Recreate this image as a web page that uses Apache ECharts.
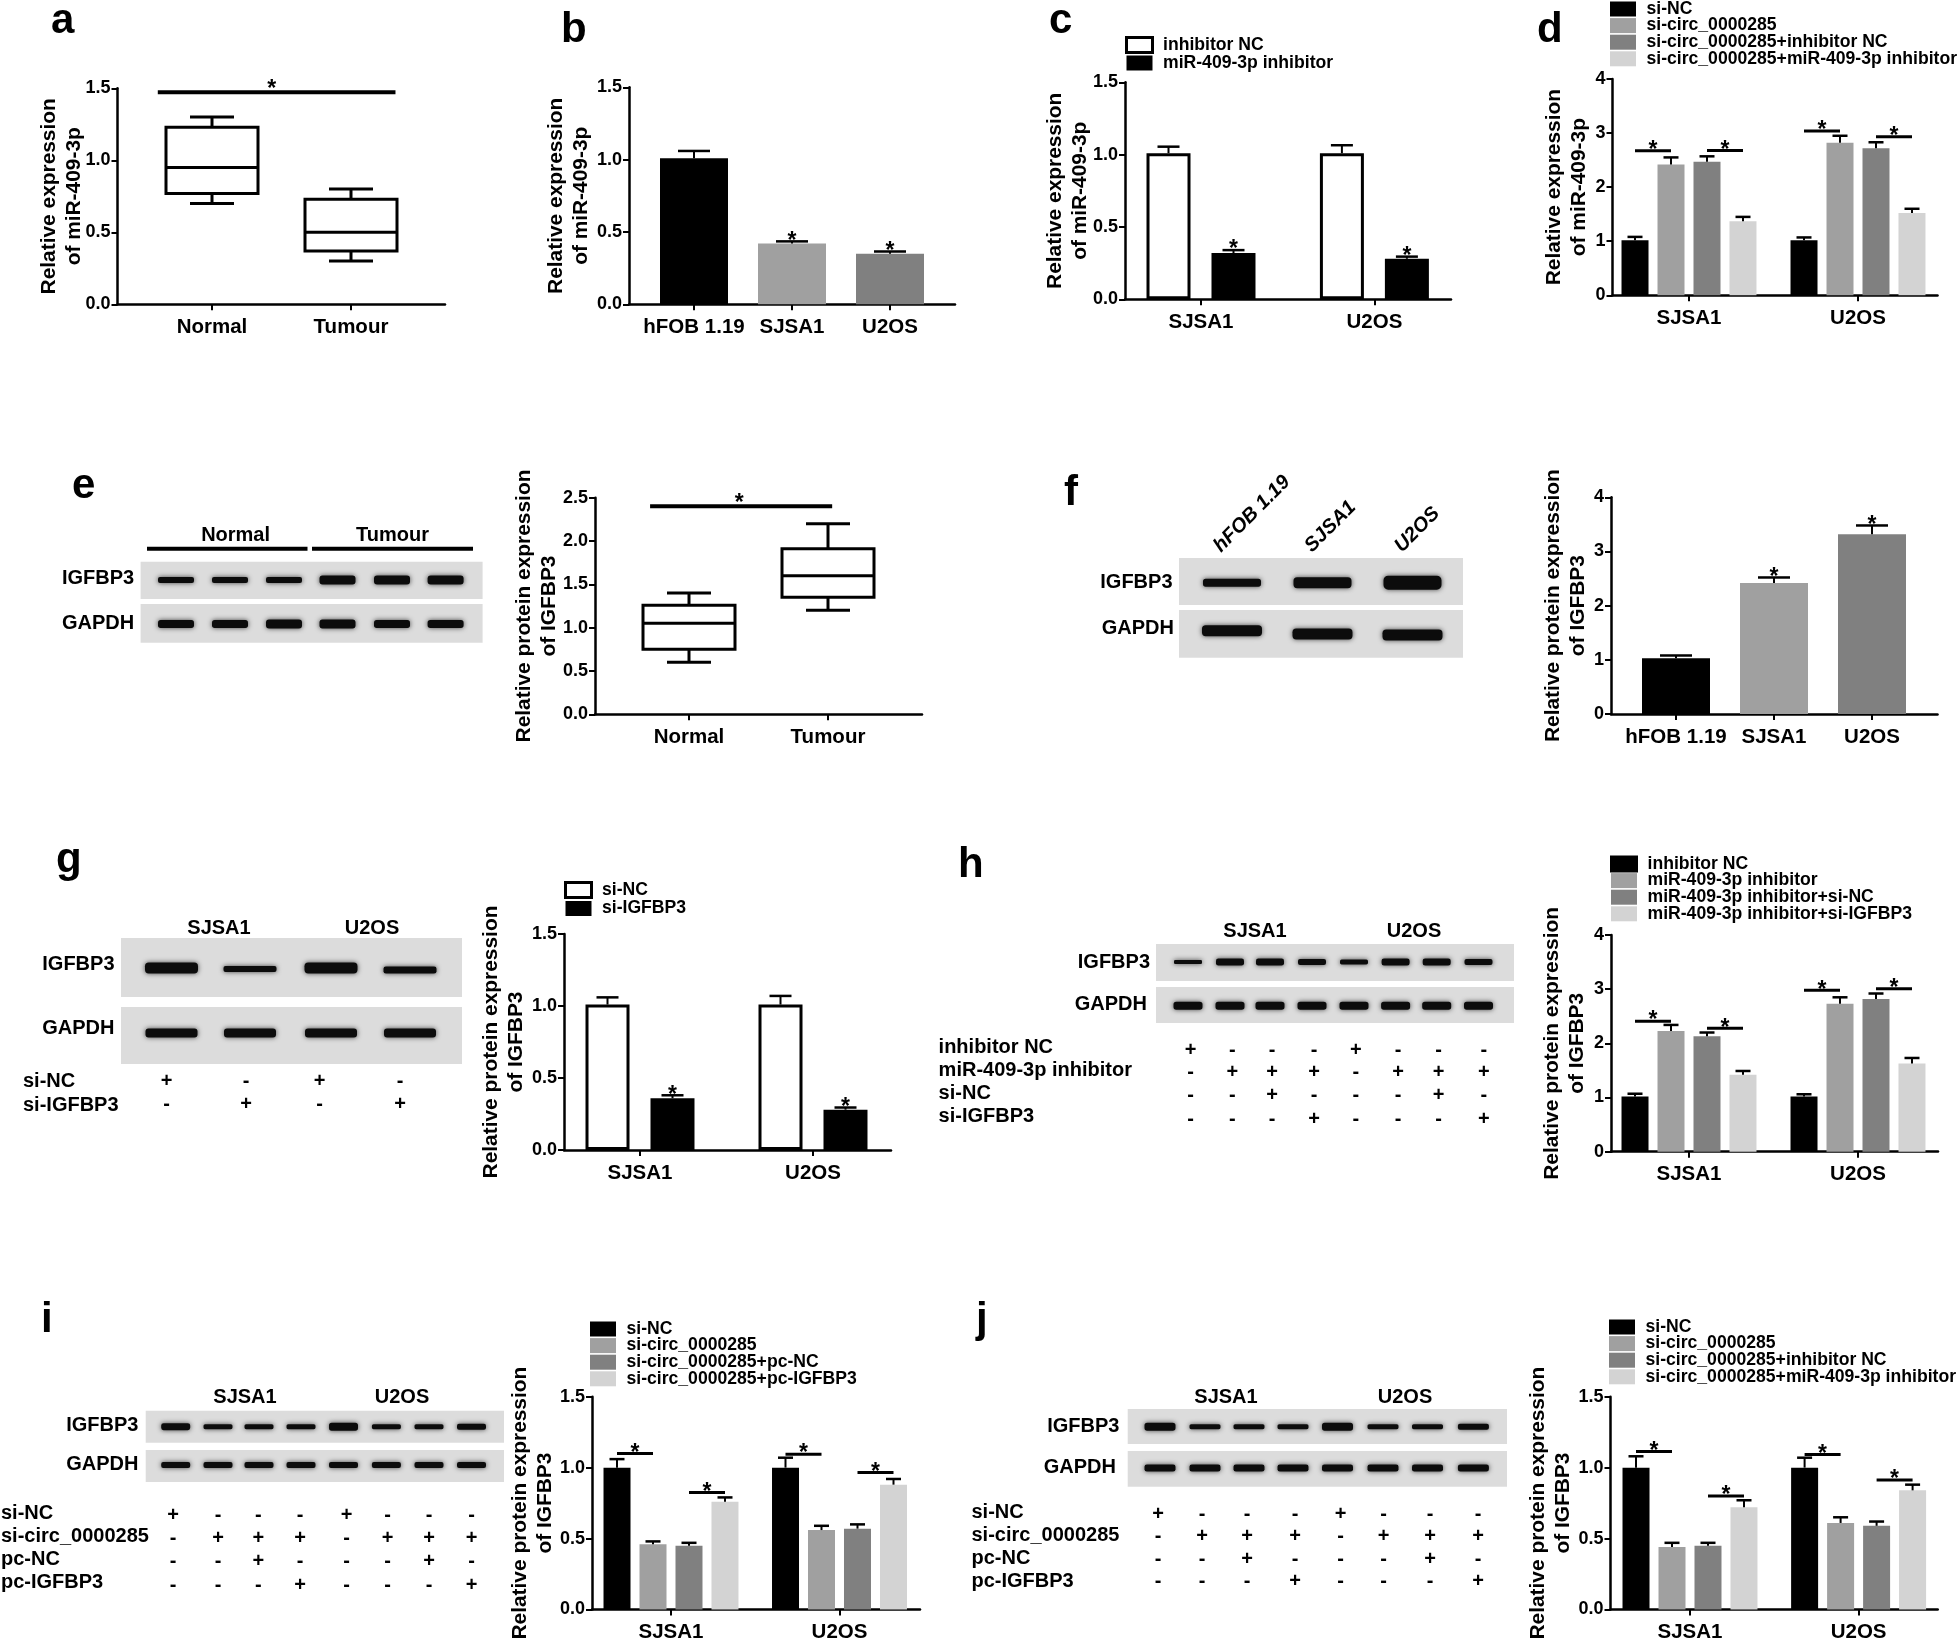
<!DOCTYPE html>
<html>
<head>
<meta charset="utf-8">
<title>miR-409-3p / IGFBP3 panels</title>
<script src="https://cdn.jsdelivr.net/npm/echarts@6/dist/echarts.min.js"></script>
<style>
  html, body { margin: 0; padding: 0; background: #fff; }
  #chart { width: 1960px; height: 1643px; }
</style>
</head>
<body>
<div id="chart"></div>
<script>
// values
const groupCats = ['SJSA1', 'U2OS'];
const cellCats = ['hFOB 1.19', 'SJSA1', 'U2OS'];
const tissueCats = ['Normal', 'Tumour'];

// box plots: min, q1, median, q3, max
const aBoxes = [[0.7, 0.77, 0.95, 1.23, 1.3], [0.3, 0.37, 0.5, 0.73, 0.8]];
const eBoxes = [[0.6, 0.75, 1.05, 1.26, 1.4], [1.2, 1.35, 1.6, 1.91, 2.2]];

const bValues = [1.01, 0.42, 0.35];
const bTops = [1.06, 0.435, 0.365];
const fValues = [1.03, 2.42, 3.32];
const fTops = [1.08, 2.52, 3.48];

const cValues = [[1.01, 1.01], [0.32, 0.28]];
const cTops = [[1.055, 1.065], [0.34, 0.295]];
const gValues = [[1.01, 1.01], [0.36, 0.28]];
const gTops = [[1.06, 1.07], [0.38, 0.295]];

const dValues = [[1.02, 1.02], [2.42, 2.82], [2.47, 2.72], [1.37, 1.52]];
const dTops = [[1.08, 1.07], [2.55, 2.95], [2.57, 2.83], [1.45, 1.6]];
const dSig = [[0, 0, 0, 1, 2.675], [0, 2, 0, 3, 2.68], [1, 0, 1, 1, 3.04], [1, 2, 1, 3, 2.93]];

const hValues = [[1.02, 1.02], [2.23, 2.73], [2.13, 2.82], [1.42, 1.63]];
const hTops = [[1.07, 1.06], [2.34, 2.85], [2.2, 2.92], [1.49, 1.73]];
const hSig = [[0, 0, 0, 1, 2.41], [0, 2, 0, 3, 2.28], [1, 0, 1, 1, 2.98], [1, 2, 1, 3, 3.01]];

const iValues = [[1.0, 1.0], [0.46, 0.56], [0.45, 0.57], [0.76, 0.88]];
const iTops = [[1.06, 1.07], [0.48, 0.59], [0.47, 0.6], [0.79, 0.92]];
const iSig = [[0, 0, 0, 1, 1.1], [0, 2, 0, 3, 0.824], [1, 0, 1, 1, 1.095], [1, 2, 1, 3, 0.965]];

const jValues = [[1.0, 1.0], [0.44, 0.61], [0.45, 0.59], [0.72, 0.84]];
const jTops = [[1.08, 1.07], [0.47, 0.65], [0.47, 0.62], [0.77, 0.88]];
const jSig = [[0, 0, 0, 1, 1.113], [0, 2, 0, 3, 0.8], [1, 0, 1, 1, 1.092], [1, 2, 1, 3, 0.912]];

const aSig = [[-0.39, 0, 1.32, 0, 1.472]];
const eSig = [[-0.28, 0, 1.03, 0, 2.4]];

const cLegend = ['inhibitor NC', 'miR-409-3p inhibitor'];
const gLegend = ['si-NC', 'si-IGFBP3'];
const dLegend = ['si-NC', 'si-circ_0000285', 'si-circ_0000285+inhibitor NC', 'si-circ_0000285+miR-409-3p inhibitor'];
const hLegend = ['inhibitor NC', 'miR-409-3p inhibitor', 'miR-409-3p inhibitor+si-NC', 'miR-409-3p inhibitor+si-IGFBP3'];
const iLegend = ['si-NC', 'si-circ_0000285', 'si-circ_0000285+pc-NC', 'si-circ_0000285+pc-IGFBP3'];
const jLegend = dLegend;

const titleMir = 'Relative expression\nof miR-409-3p';
const titleProt = 'Relative protein expression\nof IGFBP3';

const greys = ['#000000', '#a0a0a0', '#808080', '#d3d3d3'];
const FONT = '"Liberation Sans", Arial, sans-serif';

const grids = [], xAxes = [], yAxes = [], series = [], legends = [], graphics = [];

function addAxes(p) {
  const idx = grids.length;
  const step = p.ticks[1] - p.ticks[0];
  const tickVals = p.cats.map((c, k) => k);
  grids.push({ left: p.x0, top: p.yTop, width: p.x1 - p.x0, height: p.yBot - p.yTop });
  xAxes.push({
    gridIndex: idx, type: 'value',
    min: (p.x0 - p.ticks[0]) / step, max: (p.x1 - p.ticks[0]) / step,
    axisLine: { show: true, onZero: false, lineStyle: { color: '#000', width: 2.5 } },
    axisTick: { show: true, length: 6, customValues: tickVals, lineStyle: { color: '#000', width: 2 } },
    axisLabel: {
      show: true, customValues: tickVals, formatter: v => p.cats[v], margin: 12.5,
      color: '#000', fontSize: 20.5, fontWeight: 'bold', fontFamily: FONT
    },
    splitLine: { show: false }
  });
  yAxes.push({
    gridIndex: idx, type: 'value', min: 0, max: p.yMax, interval: p.yStep,
    name: p.title, nameLocation: 'middle', nameGap: p.titleGap, nameRotate: 90, nameMoveOverlap: false,
    nameTextStyle: { color: '#000', fontSize: 20.9, fontWeight: 'bold', fontFamily: FONT, lineHeight: 25 },
    axisLine: { show: true, onZero: false, lineStyle: { color: '#000', width: 2.5 } },
    axisTick: { show: true, length: 6, lineStyle: { color: '#000', width: 2 } },
    axisLabel: {
      margin: 7, color: '#000', fontSize: 18, fontWeight: 'bold', fontFamily: FONT,
      formatter: v => (p.yStep < 1 ? v.toFixed(1) : String(v))
    },
    splitLine: { show: false }
  });
  return idx;
}

// x position of bar b inside group g, px
function barX(api, g, b, n, pitch) {
  return api.coord([g, 0])[0] + (b - (n - 1) / 2) * pitch;
}

function addSig(idx, sig, n, pitch, lw, starUp, starLeft) {
  series.push({
    type: 'custom', xAxisIndex: idx, yAxisIndex: idx, silent: true, clip: false, z: 5,
    data: sig,
    renderItem(params, api) {
      const xa = barX(api, api.value(0), api.value(1), n, pitch);
      const xb = barX(api, api.value(2), api.value(3), n, pitch);
      const y = api.coord([0, api.value(4)])[1];
      return {
        type: 'group', children: [
          { type: 'line', shape: { x1: xa, y1: y, x2: xb, y2: y }, style: { stroke: '#000', lineWidth: lw } },
          { type: 'text', x: (xa + xb) / 2 - (starLeft || 0), y: y - (starUp || 0), style: { text: '*', fill: '#000', font: 'bold 23px ' + FONT, align: 'center', verticalAlign: 'middle' } }
        ]
      };
    }
  });
}

function addErrors(idx, rows, n, pitch, capW, stars) {
  series.push({
    type: 'custom', xAxisIndex: idx, yAxisIndex: idx, silent: true, clip: false, z: 4,
    data: rows,
    renderItem(params, api) {
      const x = barX(api, api.value(0), api.value(1), n, pitch);
      const y0 = api.coord([0, api.value(2)])[1];
      const y1 = api.coord([0, api.value(3)])[1];
      const kids = [
        { type: 'line', shape: { x1: x, y1: y0, x2: x, y2: y1 }, style: { stroke: '#000', lineWidth: 2 } },
        { type: 'line', shape: { x1: x - capW / 2, y1: y1, x2: x + capW / 2, y2: y1 }, style: { stroke: '#000', lineWidth: 2.5 } }
      ];
      if (stars && stars.indexOf(params.dataIndex) >= 0) {
        kids.push({ type: 'text', x: x, y: y1, style: { text: '*', fill: '#000', font: 'bold 23px ' + FONT, align: 'center', verticalAlign: 'middle' } });
      }
      return { type: 'group', children: kids };
    }
  });
}

function boxPanel(p, boxes, sig, starLeft) {
  const idx = addAxes(p);
  series.push({
    type: 'custom', xAxisIndex: idx, yAxisIndex: idx, silent: true, clip: false,
    data: boxes.map((b, k) => [k].concat(b)),
    renderItem(params, api) {
      const x = api.coord([api.value(0), 0])[0];
      const ys = [1, 2, 3, 4, 5].map(d => api.coord([0, api.value(d)])[1]);
      const st = { stroke: '#000', lineWidth: 3, fill: 'none' };
      const line = (x1, y1, x2, y2) => ({ type: 'line', shape: { x1, y1, x2, y2 }, style: st });
      const hw = 46, cap = 22;
      return {
        type: 'group', children: [
          { type: 'rect', shape: { x: x - hw, y: ys[3], width: hw * 2, height: ys[1] - ys[3] }, style: { stroke: '#000', lineWidth: 3, fill: '#fff' } },
          line(x - hw, ys[2], x + hw, ys[2]),
          line(x, ys[3], x, ys[4]), line(x, ys[0], x, ys[1]),
          line(x - cap, ys[4], x + cap, ys[4]), line(x - cap, ys[0], x + cap, ys[0])
        ]
      };
    }
  });
  addSig(idx, sig, 1, 0, 4, 3, starLeft);
}

// one series, colour per bar
function cellPanel(p, values, tops) {
  const idx = addAxes(p);
  series.push({
    type: 'bar', xAxisIndex: idx, yAxisIndex: idx, barWidth: 68, silent: true,
    data: values.map((v, k) => ({ value: [k, v], itemStyle: { color: greys[k] } }))
  });
  addErrors(idx, values.map((v, k) => [k, 0, v, tops[k]]), 1, 0, 32, [1, 2]);
}

function groupPanel(p, values, tops, sig, legend, legendPos) {
  const idx = addAxes(p);
  const n = values.length;
  const open = n === 2;
  const barW = open ? 44 : 27;
  const pitch = open ? 65 : 36;
  const styles = open
    ? [{ color: '#fff', borderColor: '#000', borderWidth: 3 }, { color: '#000', borderColor: '#000', borderWidth: 0 }]
    : greys.map(c => ({ color: c }));
  values.forEach((vals, s) => {
    series.push({
      type: 'bar', name: legend[s], xAxisIndex: idx, yAxisIndex: idx, silent: true,
      barWidth: barW, barGap: ((pitch - barW) / barW * 100).toFixed(1) + '%',
      itemStyle: styles[s],
      data: vals.map((v, k) => [k, v])
    });
  });
  const rows = [];
  values.forEach((vals, s) => vals.forEach((v, k) => rows.push([k, s, v, tops[s][k]])));
  addErrors(idx, rows, n, pitch, open ? 22 : 15, open ? [2, 3] : null);
  if (sig) addSig(idx, sig, n, pitch, 3);
  legends.push({
    left: legendPos[0], top: legendPos[1], orient: 'vertical', align: 'left', selectedMode: false, padding: 0,
    itemWidth: 26, itemHeight: 15, itemGap: legendPos[2],
    textStyle: { color: '#000', fontSize: 17.6, fontWeight: 'bold', fontFamily: FONT, lineHeight: 15, padding: [0, 0, 0, 5.5] },
    data: legend.map((name, s) => ({ name, icon: 'rect', itemStyle: Object.assign({}, styles[s]) }))
  });
}

boxPanel({ cats: tissueCats, x0: 117.5, x1: 445, yTop: 88.3, yBot: 304.3, ticks: [212, 351], yMax: 1.5, yStep: 0.5, title: titleMir, titleGap: 31 }, aBoxes, aSig, 5);
cellPanel({ cats: cellCats, x0: 629, x1: 955, yTop: 87.3, yBot: 304.3, ticks: [694, 792, 889], yMax: 1.5, yStep: 0.5, title: titleMir, titleGap: 35 }, bValues, bTops);
groupPanel({ cats: groupCats, x0: 1125, x1: 1451, yTop: 82.3, yBot: 299.3, ticks: [1201, 1374.4], yMax: 1.5, yStep: 0.5, title: titleMir, titleGap: 32 }, cValues, cTops, null, cLegend, [1125, 36, 0]);
groupPanel({ cats: groupCats, x0: 1612.5, x1: 1937.5, yTop: 79, yBot: 295.3, ticks: [1689, 1858], yMax: 4, yStep: 1, title: titleMir, titleGap: 20.5 }, dValues, dTops, dSig, dLegend, [1610, 0, -1.4]);
boxPanel({ cats: tissueCats, x0: 595, x1: 922, yTop: 497.7, yBot: 714.3, ticks: [689, 828], yMax: 2.5, yStep: 0.5, title: titleProt, titleGap: 33 }, eBoxes, eSig, 2);
cellPanel({ cats: cellCats, x0: 1611, x1: 1937.5, yTop: 497.3, yBot: 714, ticks: [1676, 1774, 1872], yMax: 4, yStep: 1, title: titleProt, titleGap: 20 }, fValues, fTops);
groupPanel({ cats: groupCats, x0: 564, x1: 891, yTop: 934, yBot: 1150, ticks: [640, 813], yMax: 1.5, yStep: 0.5, title: titleProt, titleGap: 35 }, gValues, gTops, null, gLegend, [564, 881, 0.5]);
groupPanel({ cats: groupCats, x0: 1611, x1: 1938, yTop: 935, yBot: 1151.7, ticks: [1689, 1858], yMax: 4, yStep: 1, title: titleProt, titleGap: 21 }, hValues, hTops, hSig, hLegend, [1610, 855, -1.4]);
groupPanel({ cats: groupCats, x0: 592, x1: 920, yTop: 1396.7, yBot: 1612.7, ticks: [671, 839.5], yMax: 1.5, yStep: 0.5, title: titleProt, titleGap: 34 }, iValues, iTops, iSig, iLegend, [590, 1320, -1.4]);
groupPanel({ cats: groupCats, x0: 1610.5, x1: 1937.7, yTop: 1396.7, yBot: 1612.7, ticks: [1690, 1858.6], yMax: 1.5, yStep: 0.5, title: titleProt, titleGap: 34.5 }, jValues, jTops, jSig, jLegend, [1609, 1318, -1.4]);

// ---- text, blots and the +/- tables, all plain drawing ----
function txt(text, x, y, size, align, extra) {
  graphics.push(Object.assign({
    type: 'text', x, y, silent: true,
    style: { text, fill: '#000', font: 'bold ' + size + 'px ' + FONT, align: align || 'left', verticalAlign: 'middle' }
  }, extra || {}));
}
function box(x, y, w, h, fill) {
  graphics.push({ type: 'rect', silent: true, shape: { x, y, width: w, height: h }, style: { fill } });
}
function band(cx, cy, w, t) {
  graphics.push({
    type: 'rect', silent: true, shape: { x: cx - w / 2, y: cy - t / 2, width: w, height: t, r: t / 3 },
    style: { fill: '#0c0c0c', shadowBlur: 5, shadowColor: 'rgba(0,0,0,0.7)' }
  });
}
function blot(x, y, w, h, bandY, xs, bw, thick) {
  box(x, y, w, h, '#dcdcdc');
  xs.forEach((cx, k) => band(cx, Array.isArray(bandY) ? bandY[k] : bandY, bw, Array.isArray(thick) ? thick[k] : thick));
}
function signs(rows, xs, ys) {
  rows.forEach((row, r) => row.split('').forEach((s, k) => txt(s, xs[k], ys[r], 20, 'center')));
}

// panel letters
[['a', 51, 21], ['b', 561, 30], ['c', 1049, 21], ['d', 1537, 30], ['e', 72, 486], ['f', 1064, 493],
 ['g', 56, 860], ['h', 958, 865], ['i', 41, 1320], ['j', 976, 1320]].forEach(l => txt(l[0], l[1], l[2], 42));

// e
[[147, 307.5], [312, 473]].forEach(s => box(s[0], 546.7, s[1] - s[0], 4, '#000'));
txt('Normal', 235.6, 535, 20, 'center'); txt('Tumour', 392.5, 535, 20, 'center');
txt('IGFBP3', 62, 578, 20); txt('GAPDH', 62, 623, 20);
const eLanes = [176, 230, 284, 337.5, 392, 445.6];
blot(140.6, 561.7, 342, 37.3, 580, eLanes, 36, [6, 6, 6, 9, 9, 9]);
blot(140.6, 604, 342, 38.7, 624, eLanes, 36, [8, 8, 9, 9, 8, 8]);

// f
const fLanes = [1232, 1322.5, 1412.5];
blot(1179, 558, 284, 47, 582.7, fLanes, 58, [8, 11, 14]);
blot(1179, 610, 284, 47.7, [630.7, 634, 635], fLanes, 60, 11);
txt('IGFBP3', 1172.5, 582.7, 20, 'right'); txt('GAPDH', 1174, 628.7, 20, 'right');
[['hFOB 1.19', 1217, 549], ['SJSA1', 1308, 549], ['U2OS', 1398, 549]].forEach(t => {
  graphics.push({
    type: 'text', x: t[1], y: t[2], rotation: Math.PI / 4, silent: true,
    style: { text: t[0], fill: '#000', font: 'italic bold 20px ' + FONT, align: 'left', verticalAlign: 'middle' }
  });
});

// g
const gLanes = [171.5, 250, 331, 410];
blot(121, 938, 341, 59, [968, 969, 968, 970], gLanes, 53, [11, 6, 11, 7]);
blot(121, 1007, 341, 57, 1033, gLanes, 52, 9);
txt('SJSA1', 219, 928, 20, 'center'); txt('U2OS', 372, 928, 20, 'center');
txt('IGFBP3', 114.5, 964, 20, 'right'); txt('GAPDH', 114.5, 1028, 20, 'right');
txt('si-NC', 23, 1081.7, 20); txt('si-IGFBP3', 23, 1105, 20);
signs(['+-+-', '-+-+'], [166.6, 246, 319.6, 400], [1081.7, 1104]);

// h
const hLanes = [1188, 1230, 1270, 1312, 1354, 1395.6, 1436.7, 1478.5];
blot(1156, 944, 358, 37, 962, hLanes, 28, [4, 7, 7, 6, 5, 7, 7, 6]);
blot(1156, 987, 358, 36, 1005.7, hLanes, 29, 8);
txt('SJSA1', 1255, 931, 20, 'center'); txt('U2OS', 1414, 931, 20, 'center');
txt('IGFBP3', 1150, 962.7, 20, 'right'); txt('GAPDH', 1147, 1004.7, 20, 'right');
['inhibitor NC', 'miR-409-3p inhibitor', 'si-NC', 'si-IGFBP3'].forEach((t, r) => txt(t, 938.6, [1047, 1070.7, 1093, 1116.7][r], 20));
signs(['+---+---', '-+++-+++', '--+---+-', '---+---+'], [1190.6, 1232.4, 1272, 1314, 1355.8, 1398, 1438.7, 1483.8], [1050, 1072.7, 1095.7, 1119]);

// i
const iLanes = [175.7, 218, 259, 301, 343.5, 386.4, 429, 471.5];
blot(145.7, 1410.7, 358.3, 32, 1426.7, iLanes, 29, [7, 5, 5, 5, 8, 5, 5, 6]);
blot(145.7, 1450, 358.3, 32, 1465, iLanes, 29, 6);
txt('SJSA1', 245, 1397, 20, 'center'); txt('U2OS', 402, 1397, 20, 'center');
txt('IGFBP3', 138.4, 1425, 20, 'right'); txt('GAPDH', 138.4, 1464, 20, 'right');
['si-NC', 'si-circ_0000285', 'pc-NC', 'pc-IGFBP3'].forEach((t, r) => txt(t, 1, [1513, 1536.7, 1559, 1582.7][r], 20));
signs(['+---+---', '-+++-+++', '--+---+-', '---+---+'], [173, 218, 258.4, 300, 346.6, 387.6, 429, 471.5], [1515.7, 1538, 1561.7, 1585]);

// j
const jLanes = [1160, 1205, 1249, 1293, 1337.5, 1383, 1427.5, 1473.4];
blot(1127.7, 1409, 379.3, 35, 1426.7, jLanes, 31, [8, 5, 5, 5, 8, 5, 5, 6]);
blot(1127.7, 1451, 379.3, 35.7, 1468, jLanes, 31, 7);
txt('SJSA1', 1226, 1397, 20, 'center'); txt('U2OS', 1405, 1397, 20, 'center');
txt('IGFBP3', 1119.4, 1426, 20, 'right'); txt('GAPDH', 1116, 1467.7, 20, 'right');
['si-NC', 'si-circ_0000285', 'pc-NC', 'pc-IGFBP3'].forEach((t, r) => txt(t, 971.5, [1512, 1535.7, 1558, 1581.7][r], 20));
signs(['+---+---', '-+++-+++', '--+---+-', '---+---+'], [1158, 1202, 1247, 1295, 1340.7, 1383.5, 1430, 1478], [1514, 1536.7, 1559.3, 1581.7]);

const myChart = echarts.init(document.getElementById('chart'));
myChart.setOption({
  backgroundColor: '#fff',
  animation: false,
  tooltip: { show: false },
  textStyle: { fontFamily: FONT },
  grid: grids,
  xAxis: xAxes,
  yAxis: yAxes,
  legend: legends,
  series: series,
  graphic: graphics
});
</script>
</body>
</html>
